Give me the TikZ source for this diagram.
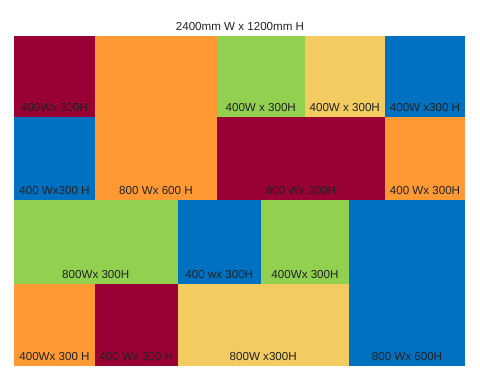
\documentclass[tikz,border=0pt]{standalone}
\usepackage{fontspec}
\setmainfont{Liberation Sans}
\definecolor{cmaroon}{HTML}{990033}
\definecolor{corange}{HTML}{FF9933}
\definecolor{cgreen}{HTML}{92D050}
\definecolor{cyellow}{HTML}{F2CB61}
\definecolor{cblue}{HTML}{0070C0}
\definecolor{ctext}{HTML}{222222}
\newcommand{\tile}[7]{%
  \fill[#6] (#2,#3) rectangle (#4,#5);
  \node[lbl] (#1) at ({(#2+#4)/2},{#5-9}) {#7};}
\begin{document}
\begin{tikzpicture}[x=1pt,y=-1pt,
  lbl/.style={inner sep=0pt,text=ctext,font=\fontsize{11.6}{13}\selectfont},
  ttl/.style={inner sep=0pt,text=ctext,font=\fontsize{11.6}{13}\selectfont}]
\useasboundingbox (0,0) rectangle (480,379);
\fill[white] (0,0) rectangle (480,379);
\node[ttl] (title) at (240,27) {2400mm W x 1200mm H};
% row 1
\tile{a}{14}{36}{95}{117}{cmaroon}{400Wx 300H}
\tile{b}{95}{36}{217}{200}{corange}{800 Wx 600 H}
\tile{c}{217}{36}{304.5}{117}{cgreen}{400W x 300H}
\tile{d}{304.5}{36}{385}{117}{cyellow}{400W x 300H}
\tile{e}{385}{36}{465}{117}{cblue}{400W x300 H}
% row 2
\tile{f}{14}{117}{95}{200}{cblue}{400 Wx300 H}
\tile{g}{217}{117}{385}{200}{cmaroon}{800 Wx 300H}
\tile{h}{385}{117}{465}{200}{corange}{400 Wx 300H}
% row 3
\tile{i}{14}{200}{177.5}{284}{cgreen}{800Wx 300H}
\tile{j}{177.5}{200}{261}{284}{cblue}{400 wx 300H}
\tile{k}{261}{200}{349}{284}{cgreen}{400Wx 300H}
\tile{l}{349}{200}{465}{366}{cblue}{800 Wx 600H}
% row 4
\tile{m}{14}{284}{95}{366}{corange}{400Wx 300 H}
\tile{n}{95}{284}{177.5}{366}{cmaroon}{400 Wx 300 H}
\tile{o}{177.5}{284}{349}{366}{cyellow}{800W x300H}
\end{tikzpicture}
\end{document}
